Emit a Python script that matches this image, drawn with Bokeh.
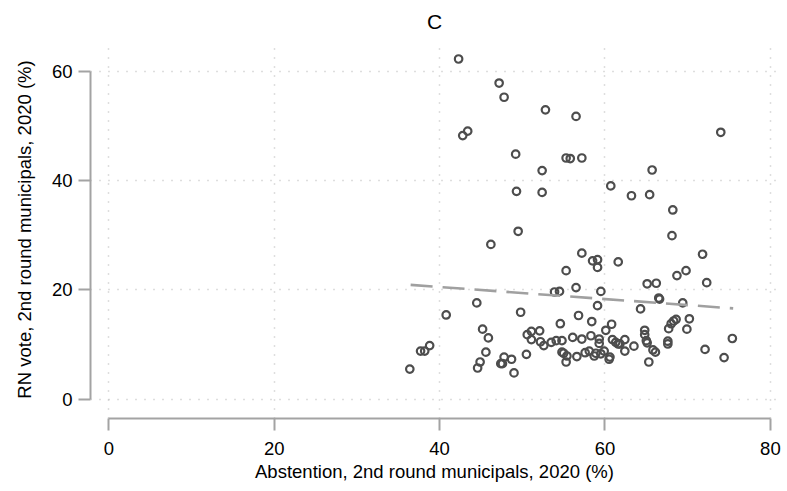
from bokeh.plotting import figure
from bokeh.models import Range1d, FixedTicker, ColumnDataSource
from bokeh.embed import file_html
from bokeh.resources import INLINE

# Abstention (%) and RN vote (%) per municipality
abstention = [42.3, 47.2, 47.8, 52.8, 56.5, 42.8, 43.4, 49.2, 52.4, 55.3,
              55.8, 57.2, 49.3, 52.4, 74.0, 65.7, 60.7, 63.2, 65.4, 49.5,
              46.2, 44.5, 40.8, 49.8, 57.2, 58.5, 59.1, 59.1, 61.6, 55.3,
              56.5, 53.9, 54.5, 59.5, 59.1, 56.8, 58.4, 64.3, 68.2, 68.1,
              71.8, 69.8, 68.7, 65.1, 66.2, 72.3, 66.5, 66.6, 69.4, 68.6,
              70.2, 45.2, 45.9, 45.6, 44.9, 44.6, 38.8, 37.7, 38.2, 36.4,
              47.4, 60.8, 54.6, 60.1, 50.6, 51.1, 52.1, 51.1, 52.2, 52.6,
              53.5, 54.1, 54.8, 56.1, 57.2, 58.3, 59.3, 59.3, 60.9, 61.3,
              61.6, 54.8, 55.0, 55.4, 55.3, 56.6, 57.6, 58.1, 58.9, 58.7,
              59.5, 59.9, 60.5, 60.6, 50.5, 47.8, 47.6, 48.7, 49.0, 62.4,
              62.4, 63.5, 64.8, 64.8, 65.0, 65.1, 65.8, 66.1, 65.3, 67.7,
              67.6, 67.6, 68.0, 68.3, 69.9, 72.1, 74.4, 75.4, 61.8]
rn_vote = [62.2, 57.8, 55.2, 52.9, 51.7, 48.2, 49.0, 44.8, 41.8, 44.1,
           44.0, 44.1, 38.0, 37.8, 48.8, 41.9, 39.0, 37.2, 37.4, 30.7,
           28.3, 17.6, 15.4, 15.9, 26.7, 25.3, 25.5, 24.1, 25.1, 23.5,
           20.4, 19.6, 19.7, 19.7, 17.1, 15.3, 14.2, 16.5, 34.6, 29.9,
           26.5, 23.5, 22.6, 21.1, 21.2, 21.3, 18.5, 18.3, 17.6, 14.6,
           14.7, 12.8, 11.2, 8.6, 6.8, 5.7, 9.8, 8.8, 8.8, 5.5,
           6.5, 13.7, 13.8, 12.6, 11.8, 12.4, 12.5, 10.9, 10.5, 9.8,
           10.4, 10.7, 10.7, 11.3, 11.0, 11.6, 11.0, 10.2, 10.9, 10.4,
           10.1, 8.6, 8.4, 7.9, 6.8, 7.8, 8.5, 8.8, 8.4, 7.9,
           8.3, 8.8, 7.3, 7.7, 8.2, 7.7, 6.5, 7.3, 4.8, 10.9,
           8.8, 9.7, 12.6, 11.8, 10.7, 10.3, 9.0, 8.6, 6.8, 12.9,
           10.6, 10.1, 13.8, 14.3, 12.8, 9.1, 7.6, 11.1, 10.1]

# Linear fit line endpoints
fit_abstention = [36.5, 75.5]
fit_rn_vote = [20.9, 16.6]

x_ticks = [0, 20, 40, 60, 80]
y_ticks = [0, 20, 40, 60]

FONT = "Liberation Sans"
AXIS_GREY = "#a3a3a3"

p = figure(width=787, height=491, output_backend="svg", toolbar_location=None,
           x_range=Range1d(-2.21, 80.98), y_range=Range1d(-3.53, 65.58),
           min_border_left=90, min_border_right=9, min_border_top=40,
           min_border_bottom=73, background_fill_color="white",
           border_fill_color="white")
p.outline_line_color = None

p.title.text = "C"
p.title.align = "center"
p.title.vertical_align = "top"
p.title.text_font = FONT
p.title.text_font_size = "21px"
p.title.text_font_style = "normal"
p.title.text_color = "#000000"
p.title.standoff = 12

p.xaxis.axis_label = "Abstention, 2nd round municipals, 2020 (%)"
p.yaxis.axis_label = "RN vote, 2nd round municipals, 2020 (%)"
p.xaxis.ticker = FixedTicker(ticks=x_ticks)
p.yaxis.ticker = FixedTicker(ticks=y_ticks)
p.xaxis.bounds = (0, 80)
p.yaxis.bounds = (0, 60)

for ax in (p.xaxis[0], p.yaxis[0]):
    ax.axis_line_color = AXIS_GREY
    ax.axis_line_width = 2
    ax.major_tick_line_color = AXIS_GREY
    ax.major_tick_line_width = 2
    ax.major_tick_out = 12
    ax.major_tick_in = 0
    ax.minor_tick_line_color = None
    ax.major_label_text_font = FONT
    ax.major_label_text_font_size = "18.5px"
    ax.major_label_text_color = "#000000"
    ax.axis_label_text_font = FONT
    ax.axis_label_text_font_size = "18.5px"
    ax.axis_label_text_font_style = "normal"
    ax.axis_label_text_color = "#000000"

p.xaxis.major_label_standoff = 11
p.xaxis.axis_label_standoff = 3
p.yaxis.major_label_standoff = 6
p.yaxis.axis_label_standoff = 14
p.yaxis.major_label_orientation = "horizontal"

for g in (p.xgrid[0], p.ygrid[0]):
    g.grid_line_color = "#bdbdbd"
    g.grid_line_width = 1.5
    g.grid_line_dash = "1 8"
p.xgrid.ticker = FixedTicker(ticks=x_ticks)
p.ygrid.ticker = FixedTicker(ticks=y_ticks)

src = ColumnDataSource(data=dict(x=abstention, y=rn_vote))
p.scatter("x", "y", source=src, marker="circle", size=7.5,
          line_color="#4d4d4d", line_width=2.2, fill_color=None)

p.line(fit_abstention, fit_rn_vote, line_color="#a0a0a0", line_width=2.6,
       line_dash="22 10")

open("out.html", "w").write(file_html(p, INLINE))
